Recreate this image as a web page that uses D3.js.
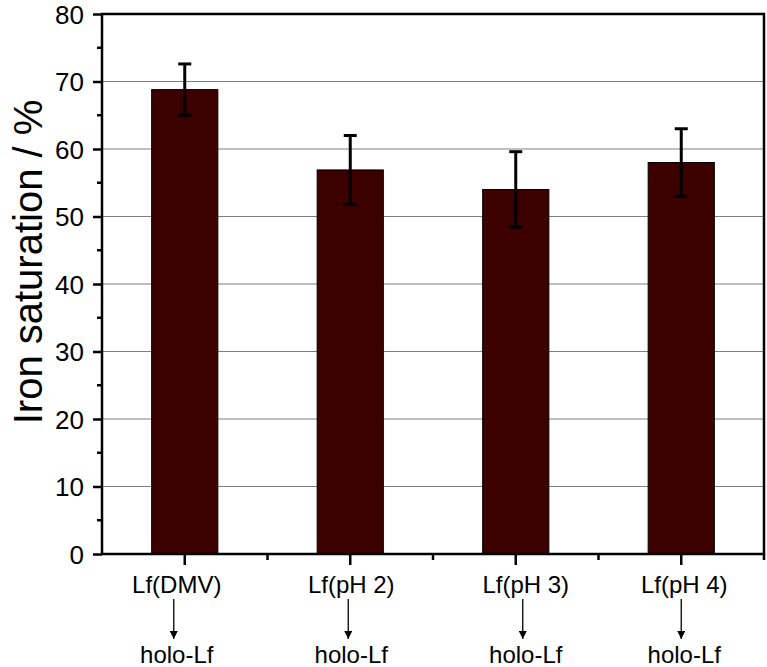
<!DOCTYPE html>
<html>
<head>
<meta charset="utf-8">
<script src="https://cdn.jsdelivr.net/npm/d3@7"></script>
<style>
  body { margin: 0; background: #fff; }
  text { font-family: "Liberation Sans", Arial, sans-serif; fill: #000; }
</style>
</head>
<body>
<script>
// data
const categories = ['Lf(DMV)', 'Lf(pH 2)', 'Lf(pH 3)', 'Lf(pH 4)'];
const products = ['holo-Lf', 'holo-Lf', 'holo-Lf', 'holo-Lf'];
const saturation = [68.8, 56.9, 54.0, 58.0];
const errors = [3.8, 5.1, 5.6, 5.0];
const yTicks = [0, 10, 20, 30, 40, 50, 60, 70, 80];

const width = 767, height = 667;
const margin = {top: 14, right: 3, bottom: 113, left: 102};

const svg = d3.select('body').append('svg')
  .attr('width', width)
  .attr('height', height);

const x = d3.scaleBand()
  .domain(categories)
  .range([margin.left, width - margin.right])
  .paddingInner(0.6)
  .paddingOuter(0.3);

const y = d3.scaleLinear()
  .domain([0, 80])
  .range([height - margin.bottom, margin.top]);

// gridlines
svg.append('g')
  .selectAll('line')
  .data(yTicks.filter(d => d > 0))
  .enter()
  .append('line')
  .attr('x1', margin.left)
  .attr('x2', width - margin.right)
  .attr('y1', d => y(d))
  .attr('y2', d => y(d))
  .style('stroke', '#808080')
  .style('stroke-width', 1.2);

// bars
svg.append('g')
  .selectAll('rect')
  .data(saturation)
  .enter()
  .append('rect')
  .attr('x', (d, i) => x(categories[i]))
  .attr('y', d => y(d))
  .attr('width', x.bandwidth())
  .attr('height', d => y(0) - y(d))
  .style('fill', '#3d0000')
  .style('stroke', '#000')
  .style('stroke-width', 1);

// error bars
const err = svg.append('g')
  .style('stroke', '#000')
  .style('stroke-width', 3);
saturation.forEach(function(v, i) {
  let cx = x(categories[i]) + x.bandwidth() / 2;
  err.append('line')
    .attr('x1', cx).attr('x2', cx)
    .attr('y1', y(v + errors[i])).attr('y2', y(v - errors[i]));
  [v + errors[i], v - errors[i]].forEach(function(e) {
    err.append('line')
      .attr('x1', cx - 6.5).attr('x2', cx + 6.5)
      .attr('y1', y(e)).attr('y2', y(e));
  });
});

// frame
svg.append('rect')
  .attr('x', margin.left)
  .attr('y', margin.top)
  .attr('width', width - margin.left - margin.right)
  .attr('height', height - margin.top - margin.bottom)
  .style('fill', 'none')
  .style('stroke', '#000')
  .style('stroke-width', 2.5);

// y axis
let yAxis = svg.append('g')
  .attr('transform', `translate(${margin.left},0)`)
  .call(d3.axisLeft(y).tickValues(yTicks).tickSize(9).tickPadding(9));
yAxis.select('.domain').remove();
yAxis.selectAll('line').style('stroke-width', 2.5);
yAxis.selectAll('text')
  .style('font-size', '26px')
  .style('font-family', '"Liberation Sans", Arial, sans-serif')
  .attr('dy', '0.36em');

// minor y ticks
svg.append('g')
  .selectAll('line')
  .data(d3.range(5, 80, 10))
  .enter()
  .append('line')
  .attr('x1', margin.left - 5)
  .attr('x2', margin.left)
  .attr('y1', d => y(d))
  .attr('y2', d => y(d))
  .style('stroke', '#000')
  .style('stroke-width', 2.5);

// x ticks: major at bar centres, minor at band boundaries
let x0 = margin.left;
svg.append('g')
  .selectAll('line')
  .data(categories)
  .enter()
  .append('line')
  .attr('x1', d => x(d) + x.bandwidth() / 2)
  .attr('x2', d => x(d) + x.bandwidth() / 2)
  .attr('y1', y(0))
  .attr('y2', y(0) + 11)
  .style('stroke', '#000')
  .style('stroke-width', 2.5);

svg.append('g')
  .selectAll('line')
  .data(d3.range(1, categories.length + 1))
  .enter()
  .append('line')
  .attr('x1', d => Math.min(x0 + d * (width - margin.left - margin.right) / categories.length, width - margin.right))
  .attr('x2', d => Math.min(x0 + d * (width - margin.left - margin.right) / categories.length, width - margin.right))
  .attr('y1', y(0))
  .attr('y2', y(0) + 6)
  .style('stroke', '#000')
  .style('stroke-width', 2.5);

// category labels with arrows
const nudge = [-8, 1, 10, 3];
let defs = svg.append('defs');
defs.append('marker')
  .attr('id', 'head')
  .attr('viewBox', '0 0 10 10')
  .attr('refX', 10).attr('refY', 5)
  .attr('markerWidth', 13).attr('markerHeight', 8)
  .attr('markerUnits', 'userSpaceOnUse')
  .attr('orient', 'auto')
  .append('path')
  .attr('d', 'M0,0L10,5L0,10Z')
  .style('fill', '#000');

let labels = svg.append('g')
  .selectAll('g')
  .data(categories)
  .enter()
  .append('g')
  .attr('transform', (d, i) => `translate(${x(d) + x.bandwidth() / 2 + nudge[i]},0)`);

labels.append('text')
  .attr('y', 593)
  .attr('text-anchor', 'middle')
  .style('font-size', '24px')
  .text(d => d);

labels.append('line')
  .attr('x1', -3).attr('x2', -3)
  .attr('y1', 599).attr('y2', 639)
  .style('stroke', '#000')
  .style('stroke-width', 1.3)
  .attr('marker-end', 'url(#head)');

labels.append('text')
  .attr('y', 663)
  .attr('text-anchor', 'middle')
  .style('font-size', '24px')
  .text((d, i) => products[i]);

// y axis title
svg.append('text')
  .attr('transform', `translate(42,${(y(0) + y(80)) / 2 - 22}) rotate(-90)`)
  .attr('text-anchor', 'middle')
  .style('font-size', '40px')
  .text('Iron saturation / %');
</script>
</body>
</html>
